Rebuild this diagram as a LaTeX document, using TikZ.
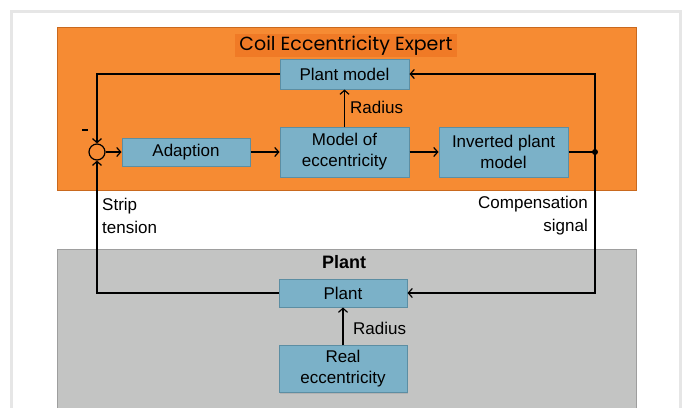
\documentclass[tikz,border=0pt]{standalone}
\usepackage{fontspec}
\setmainfont{Liberation Sans}
\newfontfamily\titlefont{Poppins}
\usetikzlibrary{arrows.meta,shadows}
\definecolor{orangebg}{HTML}{F68B33}
\definecolor{orangeedge}{HTML}{C9691E}
\definecolor{titlebg}{HTML}{F07A26}
\definecolor{boxblue}{HTML}{7BB1C8}
\definecolor{boxedge}{HTML}{5C8EA3}
\definecolor{graybg}{HTML}{C3C4C3}
\definecolor{grayedge}{HTML}{9E9E9E}
\definecolor{framegray}{HTML}{E6E6E6}
\tikzset{
  blk/.style={rectangle, fill=boxblue, draw=boxedge, line width=1pt, minimum width=129, align=center, inner sep=2pt, font=\fontsize{17}{21}\selectfont, drop shadow={shadow xshift=1pt, shadow yshift=-1pt, opacity=0.25}},
  conn/.style={line width=1.2pt, black},
  arr/.style={conn, -{Straight Barb[length=4pt,width=9pt,line width=1.2pt]}},
  lbl/.style={font=\fontsize{17}{23}\selectfont, inner sep=0pt}
}
\begin{document}
\begin{tikzpicture}[x=1pt,y=-1pt]
\useasboundingbox (0,0) rectangle (687,407);
\fill[white] (0,0) rectangle (687,407);
\draw[line width=3pt, framegray] (11,412) -- (11,11) -- (680,11) -- (680,412);
% backgrounds
\draw[fill=orangebg, draw=orangeedge, line width=1pt] (57,27) rectangle (636,190);
\draw[fill=graybg, draw=grayedge, line width=1pt] (57,249) rectangle (636,420);
% title
\node[fill=titlebg, minimum width=222, minimum height=23, inner sep=0pt, font=\titlefont\fontsize{19}{22}\selectfont] (title) at (346,45.5) {Coil Eccentricity Expert};
\node[font=\bfseries\fontsize{18}{22}\selectfont, inner sep=0pt] (ptitle) at (344,262) {Plant};
% blocks
\node[blk, minimum height=30] (pm) at (344.5,74) {Plant model};
\node[blk, minimum height=50] (moe) at (344.5,152) {Model of\\eccentricity};
\node[blk, minimum height=28, minimum width=128] (ad) at (186,152) {Adaption};
\node[blk, minimum height=50] (ipm) at (503.5,152) {Inverted plant\\model};
\node[blk, minimum height=28, minimum width=128] (plant) at (343,293) {Plant};
\node[blk, minimum height=47, minimum width=128] (re) at (343,369) {Real\\eccentricity};
% sum
\node[circle, draw, line width=1.2pt, minimum size=16, inner sep=0pt] (sum) at (97,152) {};
\node[fill=black, minimum width=6, minimum height=2.6, inner sep=0pt] (minus) at (85,130) {};
\coordinate (j) at (595,152);
% connectors
\draw[arr] (sum.east) -- (ad.west);
\draw[arr] (ad.east) -- (moe.west);
\draw[arr] (moe.east) -- (ipm.west);
\draw[conn] (ipm.east) -- (j);
\fill (j) circle (3pt);
\draw[arr] (j) |- (pm.east);
\draw[arr] (j) |- (plant.east);
\draw[arr] (pm.west) -| (sum.north);
\draw[arr] (plant.west) -| (sum.south);
\draw[arr] (moe.north) -- (pm.south);
\draw[arr] (re.north) -- (plant.south);
% labels
\node[lbl, anchor=west] (r1) at (350,107) {Radius};
\node[lbl, anchor=west] (r2) at (353,328) {Radius};
\node[lbl, anchor=west, align=left] (st) at (102,216) {Strip\\tension};
\node[lbl, anchor=east, align=right] (cs) at (588,216) {Compensation\\signal};
\end{tikzpicture}
\end{document}
